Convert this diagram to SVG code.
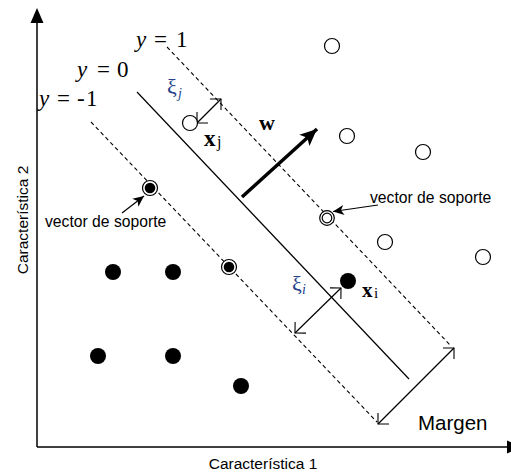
<svg xmlns="http://www.w3.org/2000/svg" width="511" height="473" viewBox="0 0 511 473">
<style>
.ax{stroke:#000;stroke-width:1.5;fill:none}
.ln{stroke:#000;stroke-width:1.2;fill:none}
.dash{stroke:#000;stroke-width:1.1;fill:none;stroke-dasharray:4,3}
.oc{fill:#fff;stroke:#000;stroke-width:1.2}
.fc{fill:#000}
.ser{font-family:"Liberation Serif","Times New Roman",serif}
.san{font-family:"Liberation Sans",Arial,sans-serif}
.xi{fill:#24438a}
</style>
<defs>
<marker id="open" markerUnits="userSpaceOnUse" markerWidth="20" markerHeight="20" refX="0" refY="0" viewBox="-10 -10 20 20" orient="auto-start-reverse" overflow="visible">
<path d="M-7.8,-7.8 L0,0 L-7.8,7.8" fill="none" stroke="#000" stroke-width="1.1"/>
</marker>
<marker id="fill" markerUnits="userSpaceOnUse" markerWidth="20" markerHeight="20" refX="0" refY="0" viewBox="-20 -10 20 20" orient="auto" overflow="visible">
<path d="M-11,-5 L0,0 L-11,5 L-8,0 Z" fill="#000"/>
</marker>
<marker id="wh" markerUnits="userSpaceOnUse" markerWidth="20" markerHeight="20" refX="0" refY="0" viewBox="-20 -10 20 20" orient="auto" overflow="visible">
<path d="M-17,-7.5 L0,0 L-17,7.5 L-13,0 Z" fill="#000"/>
</marker>
</defs>

<g id="axes">
<line class="ax" x1="37" y1="447" x2="37" y2="20"/>
<path d="M37,8 L43.5,23 L30.5,23 Z" fill="#000"/>
<line class="ax" x1="37" y1="447" x2="510" y2="447"/>
<path d="M522,447 L507,440.5 L507,453.5 Z" fill="#000"/>
</g>

<g id="connectors">
<line id="hyper0" class="ln" x1="137" y1="92" x2="409" y2="379"/>
<line id="hyperP" class="dash" x1="167" y1="47" x2="451" y2="346"/>
<line id="hyperN" class="dash" x1="91" y1="122" x2="377" y2="422"/>
<line id="margin" class="ln" x1="378" y1="424" x2="454" y2="348" marker-start="url(#open)" marker-end="url(#open)"/>
<line id="xij" class="ln" x1="197" y1="123" x2="221" y2="99" marker-start="url(#open)" marker-end="url(#open)"/>
<line id="xii" class="ln" x1="295" y1="333" x2="341" y2="288" marker-start="url(#open)" marker-end="url(#open)"/>
<line id="wvec" x1="242" y1="197" x2="317" y2="129" stroke="#000" stroke-width="3.5" marker-end="url(#wh)"/>
<line id="svL" class="ln" x1="122" y1="213" x2="144" y2="196" marker-end="url(#fill)"/>
<line id="svR" class="ln" x1="378" y1="205" x2="333" y2="211.5" marker-end="url(#fill)"/>
</g>

<g id="open-points">
<circle class="oc" cx="332" cy="46" r="7.5"/>
<circle class="oc" cx="347" cy="136" r="7.5"/>
<circle class="oc" cx="423" cy="152" r="7.5"/>
<circle class="oc" cx="385" cy="242" r="7.5"/>
<circle class="oc" cx="483" cy="257" r="7.5"/>
<circle id="xj" class="oc" cx="190" cy="123" r="7.5"/>
</g>

<g id="filled-points">
<circle class="fc" cx="113" cy="272" r="8"/>
<circle class="fc" cx="173" cy="272" r="8"/>
<circle class="fc" cx="98" cy="356" r="8"/>
<circle class="fc" cx="173" cy="356" r="8"/>
<circle class="fc" cx="241" cy="386" r="8"/>
<circle id="xi-pt" class="fc" cx="348" cy="281" r="8"/>
</g>

<g id="support-vectors">
<circle class="oc" cx="150" cy="188" r="7.5"/>
<circle class="fc" cx="150" cy="188" r="5.3"/>
<circle class="oc" cx="229" cy="267" r="7.5"/>
<circle class="fc" cx="229" cy="267" r="5.3"/>
<circle class="oc" cx="327" cy="218" r="7.3"/>
<circle class="oc" cx="327" cy="218" r="4.8"/>
</g>

<g id="labels">
<text class="ser" font-size="23"><tspan x="136" y="47" font-style="italic">y</tspan><tspan x="154">=</tspan><tspan x="176">1</tspan></text>
<text class="ser" font-size="23"><tspan x="77" y="77" font-style="italic">y</tspan><tspan x="97">=</tspan><tspan x="117">0</tspan></text>
<text class="ser" font-size="23"><tspan x="39" y="106" font-style="italic">y</tspan><tspan x="57">=</tspan><tspan x="77">-</tspan><tspan x="86">1</tspan></text>
<text class="ser xi" font-size="22"><tspan x="167" y="94">ξ</tspan><tspan x="178" y="98" font-size="14" font-style="italic">j</tspan></text>
<text class="ser xi" font-size="22"><tspan x="292" y="291">ξ</tspan><tspan x="302" y="294" font-size="14" font-style="italic">i</tspan></text>
<text class="ser" x="267" y="130" font-size="22" font-weight="bold" text-anchor="middle">w</text>
<text class="ser" font-size="23"><tspan x="204" y="146" font-weight="bold">x</tspan><tspan x="217" y="147" font-size="16">j</tspan></text>
<text class="ser" font-size="21"><tspan x="362" y="297" font-weight="bold">x</tspan><tspan x="374" y="298" font-size="15">i</tspan></text>
<text class="san" x="45" y="227" font-size="15.7">vector de soporte</text>
<text class="san" x="370" y="203" font-size="15.7">vector de soporte</text>
<text class="san" x="418" y="430" font-size="20.5">Margen</text>
<text class="san" x="263" y="469" font-size="15.5" text-anchor="middle">Característica 1</text>
<text class="san" transform="translate(28,220) rotate(-90)" font-size="15.5" text-anchor="middle">Característica 2</text>
</g>
</svg>
